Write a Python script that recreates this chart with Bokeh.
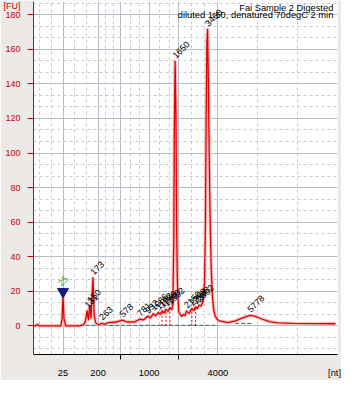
from bokeh.plotting import figure
from bokeh.models import FixedTicker, Range1d, Grid, ColumnDataSource
from bokeh.core.properties import value
from bokeh.embed import file_html
from bokeh.resources import INLINE

FONT = "Liberation Sans"

# Electropherogram trace: migration time (s) and fluorescence (FU)
trace_time = [19.00, 20.28, 20.60, 20.92, 24.44, 24.65, 24.81, 24.97, 25.24, 27.48,
              28.12, 28.44, 28.76, 28.97, 29.19, 29.40, 29.72, 29.93, 30.20, 30.68,
              31.16, 31.64, 32.28, 33.56, 34.52, 35.32, 36.60, 37.40, 38.04, 38.68,
              39.16, 39.64, 40.04, 40.44, 40.76, 41.08, 41.40, 41.72, 42.04, 42.36,
              42.68, 42.84, 43.00, 43.08, 43.21, 43.35, 43.45, 43.59, 43.80, 44.28,
              44.60, 44.84, 45.08, 45.48, 45.96, 46.28, 46.57, 46.84, 47.16, 47.48,
              47.80, 48.04, 48.20, 48.31, 48.44, 48.55, 48.68, 48.81, 48.97, 49.13,
              49.32, 49.56, 49.80, 50.20, 50.52, 51.96, 53.08, 54.20, 55.48, 56.28,
              57.56, 58.84, 60.12, 62.68, 69.56]
trace_fu = [0, 0, 0.8, 0, 0, 4, 17, 4, 0, 0,
            0.6, 2, 8.6, 3.5, 11.5, 4.5, 27.7, 6, 1.5, 0.6,
            1.5, 0.8, 1.9, 2.2, 3.3, 2.2, 2.3, 3.8, 3.4, 5.5,
            4.6, 7, 5.8, 7.7, 6.6, 8.6, 7.5, 9.5, 8.4, 10.5,
            9.5, 12, 50, 110, 153, 125, 60, 25, 8, 5.5,
            6.5, 6, 8.5, 7.2, 10, 8.8, 11, 10, 12, 11.5,
            14, 25, 60, 120, 165, 171.5, 140, 100, 60, 35,
            18, 9, 5.5, 3.5, 2.8, 1.9, 2.8, 4.5, 6, 5.6,
            3.8, 2.3, 1.7, 1.4, 1.2]

# Ladder (size standard) positions on the time axis
ladder_time = [24.81, 30.57, 34.25, 38.95, 43.85, 50.25]
ladder_nt = ["25", "200", "500", "1000", "2000", "4000"]
ladder_shown = [True, True, False, True, False, True]

# Lower marker
marker_time = [24.81]
marker_fu = [19.8]
marker_nt = ["25"]

# Called peaks
peak_time = [28.76, 29.19, 29.72, 31.16, 34.52, 37.40, 38.68, 39.64, 40.44, 41.08,
             41.72, 42.36, 43.21, 45.08, 45.96, 46.57, 47.16, 48.55, 55.48]
peak_fu = [8.6, 11.5, 27.7, 1.5, 3.3, 3.8, 5.5, 7, 7.7, 8.6,
           9.5, 10.5, 153, 8.5, 10, 11, 12, 171.5, 6]
peak_nt = ["131", "150", "173", "263", "578", "781", "932", "1086", "1192", "1289",
           "1390", "1502", "1650", "2150", "2398", "2598", "2802", "3460", "5778"]

# Peak boundary markers (dashed drops)
drop_time = [41.08, 41.72, 42.36, 45.96, 46.57]
drop_fu = [8.6, 9.5, 10.5, 10, 11]

# Integration baselines
base_start = [27.48, 53.08]
base_end = [50.20, 55.96]
base_fu = [0.3, 1.4]

y_ticks = [0, 20, 40, 60, 80, 100, 120, 140, 160, 180]
header_lines = ["Fai Sample 2 Digested", "diluted 1:50, denatured 70degC 2 min"]
y_unit, y_unit_pos = "[FU]", 185.1
x_unit, x_unit_pos = "[nt]", 69.4

XREF = 19.0            # left end of the instrument's time window
X0, X1 = 19.96, 69.88
Y0, Y1 = -16.6, 187.7

p = figure(width=341, height=380, x_range=Range1d(X0, X1), y_range=Range1d(Y0, Y1),
           output_backend="svg", toolbar_location=None,
           min_border_left=25, min_border_right=4, min_border_top=1, min_border_bottom=22,
           background_fill_color="#ffffff", border_fill_color="#ece9e6",
           outline_line_color=None)

# grids
grid_major = "#b5bdca"
grid_minor = "#cacaca"
p.xgrid.ticker = FixedTicker(ticks=ladder_time)
p.xgrid.grid_line_color = grid_major
p.ygrid.ticker = FixedTicker(ticks=y_ticks)
p.ygrid.grid_line_color = grid_major

xb = [XREF] + ladder_time + [X1]
minor_x = []
for a, b in zip(xb[:-1], xb[1:]):
    minor_x += [a + (b - a) / 3.0, a + 2 * (b - a) / 3.0]
minor_y = []
for k in range(-20, 200, 20):
    minor_y += [k + 20 / 3.0, k + 40 / 3.0]
p.add_layout(Grid(dimension=0, ticker=FixedTicker(ticks=minor_x),
                  grid_line_color=grid_minor, grid_line_dash="3 3"))
p.add_layout(Grid(dimension=1, ticker=FixedTicker(ticks=minor_y),
                  grid_line_color=grid_minor, grid_line_dash="3 3"))

# x axis: labelled ladder sizes (no tick marks), unlabelled ones get short ticks
shown_t = [t for t, s in zip(ladder_time, ladder_shown) if s]
hidden_t = [t for t, s in zip(ladder_time, ladder_shown) if not s]
p.xaxis.ticker = FixedTicker(ticks=shown_t + [x_unit_pos], minor_ticks=hidden_t)
xo = {t: n for t, n, s in zip(ladder_time, ladder_nt, ladder_shown) if s}
xo[x_unit_pos] = x_unit
p.xaxis.major_label_overrides = xo
p.xaxis.major_tick_out = 0
p.xaxis.major_tick_in = 0
p.xaxis.minor_tick_out = 5
p.xaxis.minor_tick_in = 0
p.xaxis.minor_tick_line_color = "#000000"
p.xaxis.axis_line_color = "#000000"
p.xaxis.major_label_standoff = 8
p.xaxis.major_label_text_font = FONT
p.xaxis.major_label_text_font_size = "9.3px"
p.xaxis.major_label_text_color = "#000000"

# y axis: red, ticks drawn as minor ticks so the unit label gets none
red_axis = "#d40000"
p.yaxis.ticker = FixedTicker(ticks=y_ticks + [y_unit_pos], minor_ticks=y_ticks)
yo = {v: str(v) for v in y_ticks}
yo[y_unit_pos] = y_unit
p.yaxis.major_label_overrides = yo
p.yaxis.axis_line_color = red_axis
p.yaxis.major_tick_out = 0
p.yaxis.major_tick_in = 0
p.yaxis.minor_tick_line_color = red_axis
p.yaxis.minor_tick_out = 6
p.yaxis.minor_tick_in = 0
p.yaxis.major_label_standoff = 7
p.yaxis.major_label_text_font = FONT
p.yaxis.major_label_text_font_size = "9px"
p.yaxis.major_label_text_color = "#c80000"

# baselines
p.segment(x0=base_start, y0=base_fu, x1=base_end, y1=base_fu,
          line_color="#3d5f58", line_width=1, line_dash="4 2")
p.segment(x0=[marker_time[0] - 0.37], y0=[2.7], x1=[marker_time[0] + 0.38], y1=[2.7],
          line_color="#707070", line_width=1)

# trace
src = ColumnDataSource(dict(t=trace_time, fu=trace_fu))
p.line("t", "fu", source=src, line_color="#f5b3b3", line_width=3.5, line_alpha=0.8,
       line_join="round")
p.line("t", "fu", source=src, line_color="#e00000", line_width=1.3, line_join="round")

# peak drop lines
p.segment(x0=drop_time, y0=[0] * len(drop_time), x1=drop_time, y1=drop_fu,
          line_color="#e00000", line_width=1, line_dash="2 2")

# marker
p.scatter(marker_time, marker_fu, marker="inverted_triangle", size=11,
          fill_color="#1a1a7e", line_color="#1a1a7e")
p.text(x=[t - 0.55 for t in marker_time], y=[f + 4 for f in marker_fu], text=marker_nt,
       angle=45, angle_units="deg", text_color="#2e9e2e",
       text_font=value(FONT), text_font_size="9px",
       text_align="left", text_baseline="middle")

# peak labels
p.text(x=[t - 0.16 for t in peak_time], y=[f + 2.6 for f in peak_fu], text=peak_nt,
       angle=45, angle_units="deg", text_color="#000000",
       text_font=value(FONT), text_font_size="9px",
       text_align="left", text_baseline="middle")

# header
p.text(x=[69.19, 69.19], y=[184.0, 179.6], text=header_lines,
       text_color="#000000", text_font=value(FONT), text_font_size="9.3px",
       text_align="right", text_baseline="alphabetic")

open("out.html", "w").write(file_html(p, INLINE))
